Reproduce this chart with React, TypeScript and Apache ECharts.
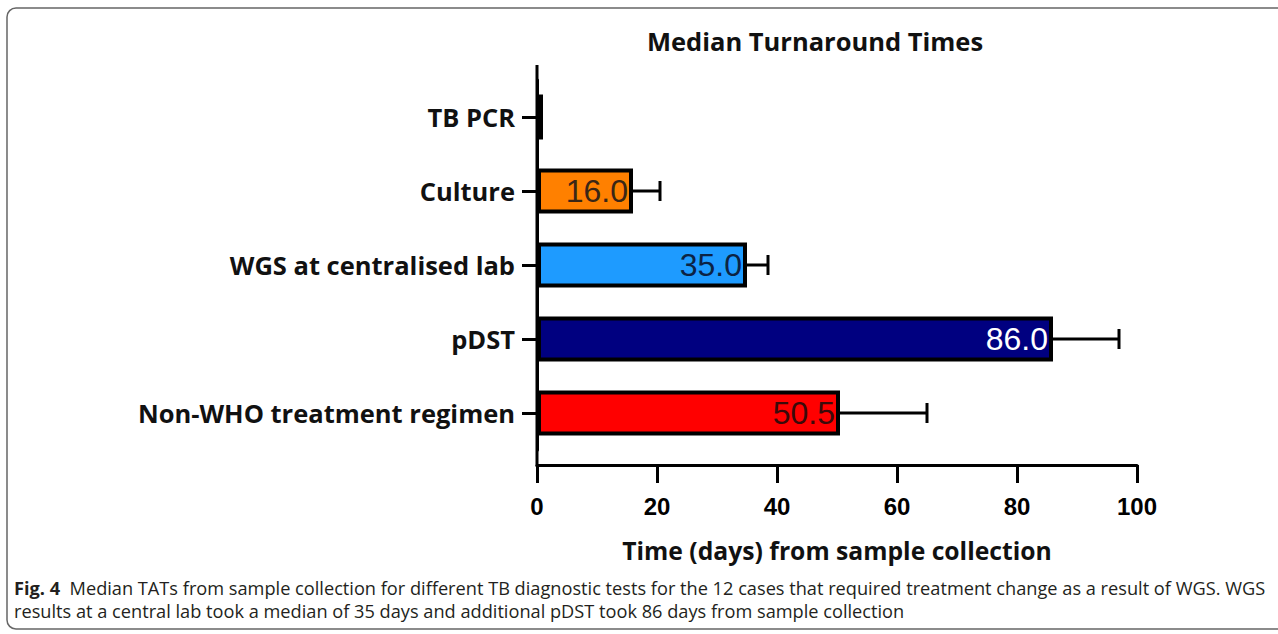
import React, { useEffect, useRef } from "react";
import * as echarts from "echarts";

const categories = ["TB PCR", "Culture", "WGS at centralised lab", "pDST", "Non-WHO treatment regimen"];
const medians = [1, 16.0, 35.0, 86.0, 50.5];
const upperErrors = [null, 20.5, 38.5, 97, 65];
const barColors = ["#000000", "#FF8000", "#1E9BFF", "#000080", "#FF0000"];
const labelColors = ["#000000", "#3a2616", "#0c2344", "#ffffff", "#3a0a0a"];
const showLabel = [false, true, true, true, true];
const xTicks = { min: 0, max: 100, interval: 20 };
const titleText = "Median Turnaround Times";
const xAxisName = "Time (days) from sample collection";
const captionBold = "Fig. 4";
const captionLine1 = "Median TATs from sample collection for different TB diagnostic tests for the 12 cases that required treatment change as a result of WGS. WGS";
const captionLine2 = "results at a central lab took a median of 35 days and additional pDST took 86 days from sample collection";

const GRID_LEFT = 537;
const GRID_RIGHT = 141;
const GRID_TOP = 80;
const GRID_H = 370;
const EXT = 15;

export default function App() {
  const ref = useRef<HTMLDivElement>(null);
  useEffect(() => {
    document.body.style.margin = "0";
    const chart = echarts.init(ref.current!, undefined, { renderer: "svg" });
    const labelFont = "'Open Sans', 'DejaVu Sans', sans-serif";
    const captionFont = "'Open Sans', sans-serif";
    const option: any = {
      animation: false,
      backgroundColor: "#ffffff",
      title: {
        text: titleText,
        left: 642,
        top: 23,
        textStyle: { fontFamily: labelFont, fontWeight: "bold", fontSize: 25.5, color: "#111" },
      },
      grid: { left: GRID_LEFT, right: GRID_RIGHT, top: GRID_TOP, height: GRID_H },
      xAxis: {
        type: "value",
        min: xTicks.min,
        max: xTicks.max,
        interval: xTicks.interval,
        offset: EXT,
        splitLine: { show: false },
        axisLine: { show: true, lineStyle: { color: "#000", width: 3 } },
        axisTick: { show: true, length: 18, lineStyle: { color: "#000", width: 3 } },
        axisLabel: {
          margin: 29,
          fontFamily: "'Liberation Sans', Arial, sans-serif",
          fontWeight: "bold",
          fontSize: 24,
          color: "#000",
        },
        name: xAxisName,
        nameLocation: "middle",
        nameGap: 73,
        nameTextStyle: { fontFamily: labelFont, fontWeight: "bold", fontSize: 24.7, color: "#111" },
      },
      yAxis: {
        type: "category",
        data: categories,
        inverse: true,
        axisLine: { show: true, lineStyle: { color: "#000", width: 3 } },
        axisTick: { show: true, alignWithLabel: true, length: 15, lineStyle: { color: "#000", width: 3 } },
        axisLabel: {
          margin: 22,
          fontFamily: labelFont,
          fontWeight: "bold",
          fontSize: 25.5,
          color: "#111",
        },
      },
      graphic: [
        {
          id: "yext",
          type: "line",
          shape: { x1: GRID_LEFT, y1: GRID_TOP - EXT, x2: GRID_LEFT, y2: GRID_TOP + GRID_H + EXT + 1.5 },
          style: { stroke: "#000", lineWidth: 3 },
          z: 100,
        },
        {
          type: "rect",
          shape: { x: 7, y: 8, width: 1300, height: 621, r: 9 },
          style: { fill: "none", stroke: "#666", lineWidth: 1.5 },
          silent: true,
        },
        {
          type: "text",
          left: 14,
          top: 579,
          style: {
            text: "{b|" + captionBold + "}  " + captionLine1,
            fontFamily: captionFont,
            fontSize: 18.2,
            fill: "#231f20",
            rich: { b: { fontWeight: "bold", fontSize: 18.2, fontFamily: captionFont, fill: "#231f20" } },
          },
        },
        {
          type: "text",
          left: 14,
          top: 602,
          style: {
            text: captionLine2,
            fontFamily: captionFont,
            fontSize: 18.2,
            fill: "#231f20",
          },
        },
      ],
      series: [
        {
          type: "custom",
          z: 1,
          renderItem: (params: any, api: any) => {
            const yi = api.value(0);
            const v = api.value(1);
            const u = api.value(2);
            const p1 = api.coord([v, yi]);
            const p2 = api.coord([u, yi]);
            const h = 10;
            return {
              type: "group",
              children: [
                { type: "line", shape: { x1: p1[0], y1: p1[1], x2: p2[0], y2: p2[1] }, style: { stroke: "#000", lineWidth: 3 } },
                { type: "line", shape: { x1: p2[0], y1: p2[1] - h, x2: p2[0], y2: p2[1] + h }, style: { stroke: "#000", lineWidth: 3 } },
              ],
            };
          },
          encode: { y: 0, x: [1, 2] },
          data: categories
            .map((_, i) => (upperErrors[i] == null ? null : [i, medians[i], upperErrors[i]]))
            .filter((d) => d !== null),
        },
        {
          type: "bar",
          z: 2,
          barWidth: 45,
          data: medians.map((v, i) => ({
            value: v,
            itemStyle: { color: barColors[i], borderColor: "#000", borderWidth: 4 },
            label: {
              show: showLabel[i],
              position: "insideRight",
              distance: 5,
              formatter: (p: any) => Number(p.value).toFixed(1),
              fontFamily: "'Liberation Sans', Arial, sans-serif",
              fontSize: 32,
              color: labelColors[i],
            },
          })),
        },
      ],
    };
    chart.setOption(option);
    const x0 = chart.convertToPixel({ xAxisIndex: 0 }, 0) as number;
    if (typeof x0 === "number" && isFinite(x0)) {
      chart.setOption({
        graphic: [{ id: "yext", shape: { x1: x0, x2: x0 } }],
      });
    }
    return () => chart.dispose();
  }, []);
  return <div ref={ref} style={{ width: 1278, height: 634 }} />;
}
